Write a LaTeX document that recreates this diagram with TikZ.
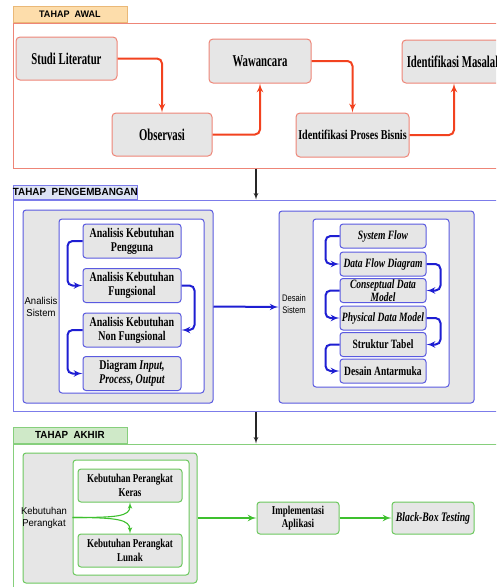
\documentclass[tikz,border=0pt]{standalone}
\usepackage{fontspec}
\newfontfamily\boxfont[FakeStretch=0.75]{Liberation Serif}
\newfontfamily\boxnarrow[FakeStretch=0.65]{Liberation Serif}
\newfontfamily\lblfont[FakeStretch=0.95]{Liberation Sans}
\newfontfamily\lblnarrow[FakeStretch=0.8]{Liberation Sans}
\usetikzlibrary{arrows,positioning}
\definecolor{boxgray}{HTML}{E6E6E6}
\definecolor{awalline}{HTML}{EE8577}
\definecolor{awalarrow}{HTML}{F2421F}
\definecolor{awaltab}{HTML}{FDDDAB}
\definecolor{awaltabline}{HTML}{EAB877}
\definecolor{kembangline}{HTML}{7C7CEA}
\definecolor{kembangbox}{HTML}{5A5AE0}
\definecolor{kembangarrow}{HTML}{1E1ED2}
\definecolor{kembangtab}{HTML}{DDE3F4}
\definecolor{akhirline}{HTML}{86CF7C}
\definecolor{akhirbox}{HTML}{6CC85E}
\definecolor{akhirarrow}{HTML}{3EC02E}
\definecolor{akhirtab}{HTML}{CFE9C8}

\begin{document}
\begin{tikzpicture}[x=1pt,y=-1pt,>=latex']
        \tikzset{frame/.style={draw, line width=1pt, minimum width=486pt, inner sep=0pt},
        tab/.style={draw, line width=0.8pt, anchor=south west, minimum width=114pt, minimum height=16pt, inner sep=0pt},
        rblock/.style={draw=awalline, fill=boxgray, rounded corners=4pt, line width=1pt, align=center, inner sep=1pt,
                minimum width=101pt, minimum height=43pt, font=\boxnarrow\bfseries\fontsize{16.5}{17}\selectfont},
        outer/.style={draw, fill=boxgray, rounded corners=3pt, line width=1pt, inner sep=0pt},
        inner/.style={draw, fill=white, rounded corners=3pt, line width=1pt, inner sep=0pt},
        side/.style={align=center, inner sep=0pt, font=\lblfont\fontsize{10}{12}\selectfont},
        bblock/.style={draw=kembangbox, fill=boxgray, rounded corners=3pt, line width=1pt, align=center, inner sep=0pt,
                minimum width=98pt, minimum height=34pt, font=\boxfont\bfseries\fontsize{13.3}{14}\selectfont},
        sblock/.style={bblock, minimum width=86pt, minimum height=24pt, font=\boxfont\bfseries\fontsize{12.7}{13}\selectfont},
        gblock/.style={draw=akhirbox, fill=boxgray, rounded corners=3pt, line width=1pt, align=center, inner sep=0pt,
                minimum width=104pt, minimum height=33pt, font=\boxfont\bfseries\fontsize{12}{13.5}\selectfont},
        rarrow/.style={->, draw=awalarrow, line width=2pt, rounded corners=5pt},
        barrow/.style={->, draw=kembangarrow, line width=2pt, rounded corners=5pt},
        garrow/.style={->, draw=akhirarrow, line width=2pt},
        karrow/.style={->, draw=black!85, line width=1.2pt},
        }
        \useasboundingbox (0,0) rectangle (496,587);
        \clip (0,0) rectangle (496,587);
%% tahap awal
        \node [frame, draw=awalline, minimum height=145pt] (awal) at (256,95.5) {};
        \node [tab, draw=awaltabline, fill=awaltab, font=\lblfont\bfseries\fontsize{9.5}{10}\selectfont] (awaltab) at (awal.north west) {TAHAP\ \ AWAL};
        \node [rblock] (studi) at (66.5,58.5) {Studi Literatur};
        \node [rblock, minimum width=100pt] (observasi) at (162,134.5) {Observasi};
        \node [rblock, minimum width=102pt, minimum height=44pt] (wawancara) at (260,61) {Wawancara};
        \node [rblock, minimum width=113pt, minimum height=44pt, font=\boxfont\bfseries\fontsize{13.5}{15}\selectfont] (proses) at (352.5,135) {Identifikasi Proses Bisnis};
        \node [rblock, minimum width=104pt] (masalah) at (454,61.5) {Identifikasi Masalah};
%% tahap pengembangan
        \node [frame, draw=kembangline, minimum height=211pt] (kembang) at (256,305.5) {};
        \node [tab, draw=kembangline, fill=kembangtab, minimum width=119pt, minimum height=14pt, font=\lblfont\bfseries\fontsize{10.4}{11}\selectfont] (kembangtab) at (kembang.north west) {TAHAP\ \ PENGEMBANGAN};
        \node [outer, draw=kembangbox, minimum width=190pt, minimum height=193pt] (analisis) at (118,306.5) {};
        \node [inner, draw=kembangbox, minimum width=145pt, minimum height=174pt] (analisisin) at (131.5,306) {};
        \node [side] (analisislbl) at (41,306.5) {Analisis\\Sistem};
        \node [bblock] (pengguna) at (132,241) {Analisis Kebutuhan\\Pengguna};
        \node [bblock] (fungsional) at (132,285.5) {Analisis Kebutuhan\\Fungsional};
        \node [bblock] (nonfungsi) at (132,330) {Analisis Kebutuhan\\Non Fungsional};
        \node [bblock] (ipo) at (132,373.5) {Diagram \textit{Input,}\\\textit{Process, Output}};
        \node [outer, draw=kembangbox, minimum width=195pt, minimum height=192pt] (desain) at (376.5,307) {};
        \node [inner, draw=kembangbox, minimum width=136pt, minimum height=168pt] (desainin) at (381,303) {};
        \node [side, font=\lblnarrow\fontsize{9.5}{12}\selectfont] (desainlbl) at (294,304) {Desain\\Sistem};
        \node [sblock] (sysflow) at (383,236) {\textit{System Flow}};
        \node [sblock] (dfd) at (383,264) {\textit{Data Flow Diagram}};
        \node [sblock, font=\boxfont\bfseries\fontsize{12.7}{12.5}\selectfont] (cdm) at (383,290.5) {\textit{Conseptual Data}\\\textit{Model}};
        \node [sblock] (pdm) at (383,318) {\textit{Physical Data Model}};
        \node [sblock] (struktur) at (383,344.5) {Struktur Tabel};
        \node [sblock] (antarmuka) at (383,371) {Desain Antarmuka};
%% tahap akhir
        \node [frame, draw=akhirline, minimum height=160pt] (akhir) at (256,524) {};
        \node [tab, draw=akhirline, fill=akhirtab, font=\lblfont\bfseries\fontsize{10.3}{11}\selectfont] (akhirtab) at (akhir.north west) {TAHAP\ \ AKHIR};
        \node [outer, draw=akhirbox, minimum width=174pt, minimum height=130pt] (kebutuhan) at (110,518) {};
        \node [inner, draw=akhirbox, minimum width=116pt, minimum height=115pt] (kebutuhanin) at (131,517.5) {};
        \node [side] (kebutuhanlbl) at (44,518) {Kebutuhan\\Perangkat};
        \node [gblock] (keras) at (130,485.5) {Kebutuhan Perangkat\\Keras};
        \node [gblock] (lunak) at (130,550.5) {Kebutuhan Perangkat\\Lunak};
        \node [gblock, minimum width=82pt, minimum height=32pt] (implementasi) at (298,518) {Implementasi\\Aplikasi};
        \node [gblock, minimum width=82pt, minimum height=32pt, font=\boxfont\bfseries\fontsize{13}{14}\selectfont] (blackbox) at (433,518) {\textit{Black-Box Testing}};
%% paths
        \draw [rarrow] (studi) -| (observasi);
        \draw [rarrow] (observasi) -| (wawancara);
        \draw [rarrow] (wawancara) -| (proses);
        \draw [rarrow] (proses) -| (masalah);
        \draw [karrow] (awal.south) -- (kembang.north);
        \draw [barrow] (pengguna.west) -- ++(-15,0) |- (fungsional.west);
        \draw [barrow] (fungsional.east) -- ++(13,0) |- (nonfungsi.east);
        \draw [barrow] (nonfungsi.west) -- ++(-15,0) |- (ipo.west);
        \draw [barrow] (analisis.east) -- (desain.west);
        \draw [barrow] (sysflow.west) -- ++(-14,0) |- (dfd.west);
        \draw [barrow] (dfd.east) -- ++(14,0) |- (cdm.east);
        \draw [barrow] (cdm.west) -- ++(-14,0) |- (pdm.west);
        \draw [barrow] (pdm.east) -- ++(14,0) |- (struktur.east);
        \draw [barrow] (struktur.west) -- ++(-14,0) |- (antarmuka.west);
        \draw [karrow] (kembang.south) -- (akhir.north);
        \draw [garrow, line width=1.1pt] (kebutuhanin.west) .. controls +(45,0) and +(0,14) .. (keras.south);
        \draw [garrow, line width=1.1pt] (kebutuhanin.west) .. controls +(45,0) and +(0,-14) .. (lunak.north);
        \draw [garrow] (kebutuhan.east) -- (implementasi.west);
        \draw [garrow] (implementasi.east) -- (blackbox.west);
    \end{tikzpicture}
\end{document}
